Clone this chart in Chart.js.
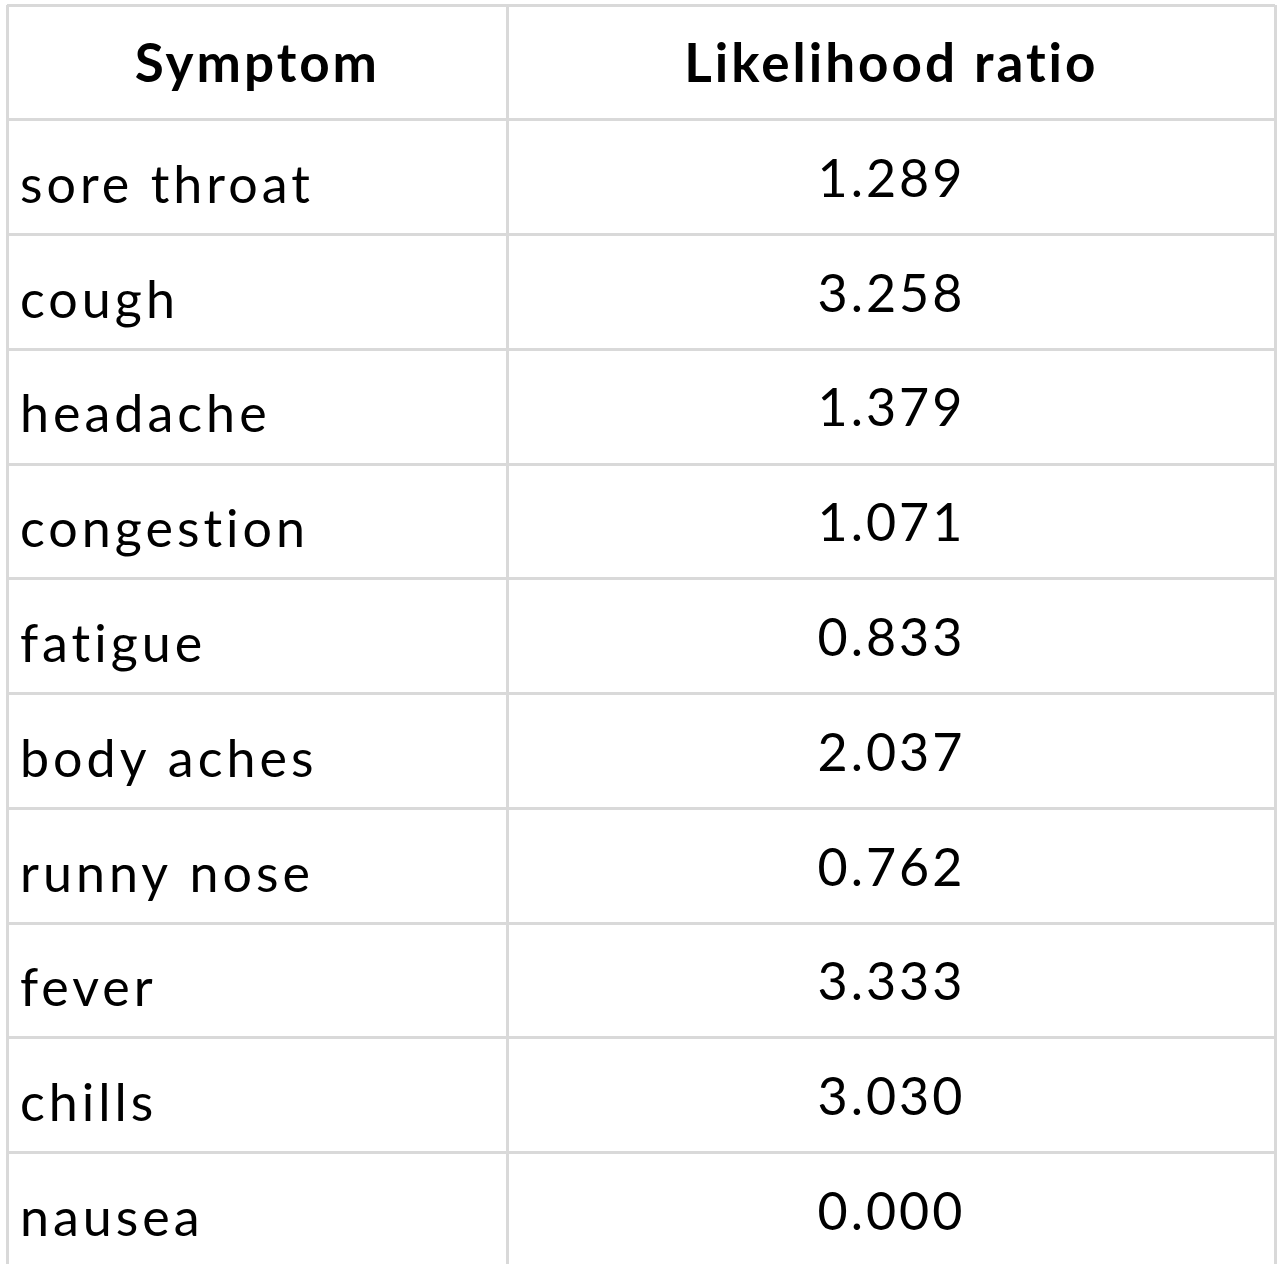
<!DOCTYPE html>
<html>
<head>
<meta charset="utf-8">
<script src="https://cdn.jsdelivr.net/npm/chart.js@4"></script>
<style>
  html, body { margin: 0; padding: 0; background: #fff; }
  #wrap { width: 1280px; height: 1264px; }
</style>
</head>
<body>
<div id="wrap"><canvas id="tableChart" width="1280" height="1264"></canvas></div>
<script>
const headers = ['Symptom', 'Likelihood ratio'];
const symptoms = ['sore throat', 'cough', 'headache', 'congestion', 'fatigue',
    'body aches', 'runny nose', 'fever', 'chills', 'nausea'];
const ratios = ['1.289', '3.258', '1.379', '1.071', '0.833',
    '2.037', '0.762', '3.333', '3.030', '0.000'];

// column edges on a 0..1 axis; row edges are integer row indexes
const colEdges = [0, 0.395, 1];

const tablePlugin = {
    id: 'tableText',
    afterDraw(chart) {
        const ctx = chart.ctx;
        const x = chart.scales.x;
        const y = chart.scales.y;
        const rowMid = i => y.getPixelForValue(i + 0.5);

        ctx.save();
        ctx.fillStyle = '#000';
        ctx.textBaseline = 'middle';

        ctx.font = 'bold 53px Lato, "Open Sans", sans-serif';
        ctx.letterSpacing = '3px';
        ctx.textAlign = 'center';
        headers.forEach((h, c) => {
            const cx = x.getPixelForValue((colEdges[c] + colEdges[c + 1]) / 2);
            ctx.fillText(h, cx, rowMid(0) + 3);
        });

        ctx.font = '52px Lato, "Open Sans", sans-serif';
        symptoms.forEach((s, i) => {
            ctx.letterSpacing = '4px';
            ctx.textAlign = 'left';
            ctx.fillText(s, x.getPixelForValue(colEdges[0]) + 13, rowMid(i + 1) + 9);
            ctx.letterSpacing = '3px';
            ctx.textAlign = 'center';
            const cx = x.getPixelForValue((colEdges[1] + colEdges[2]) / 2);
            ctx.fillText(ratios[i], cx, rowMid(i + 1) + 3);
        });
        ctx.restore();
    }
};

new Chart(document.getElementById('tableChart'), {
    type: 'scatter',
    data: { datasets: [{ data: [] }] },
    options: {
        responsive: false,
        animation: false,
        devicePixelRatio: 1,
        layout: { padding: { left: 7, right: 5, top: 5, bottom: 0 } },
        plugins: { legend: { display: false }, tooltip: { enabled: false } },
        scales: {
            x: {
                type: 'linear', min: 0, max: 1,
                afterBuildTicks: s => { s.ticks = colEdges.map(v => ({ value: v })); },
                ticks: { display: false },
                grid: { color: '#d9d9d9', lineWidth: 3, drawTicks: false },
                border: { display: false }
            },
            y: {
                type: 'linear', min: 0, max: 10.97, reverse: true,
                afterBuildTicks: s => { s.ticks = Array.from({ length: 11 }, (_, i) => ({ value: i })); },
                ticks: { display: false },
                grid: { color: '#d9d9d9', lineWidth: 3, drawTicks: false },
                border: { display: false }
            }
        }
    },
    plugins: [tablePlugin]
});
</script>
</body>
</html>
